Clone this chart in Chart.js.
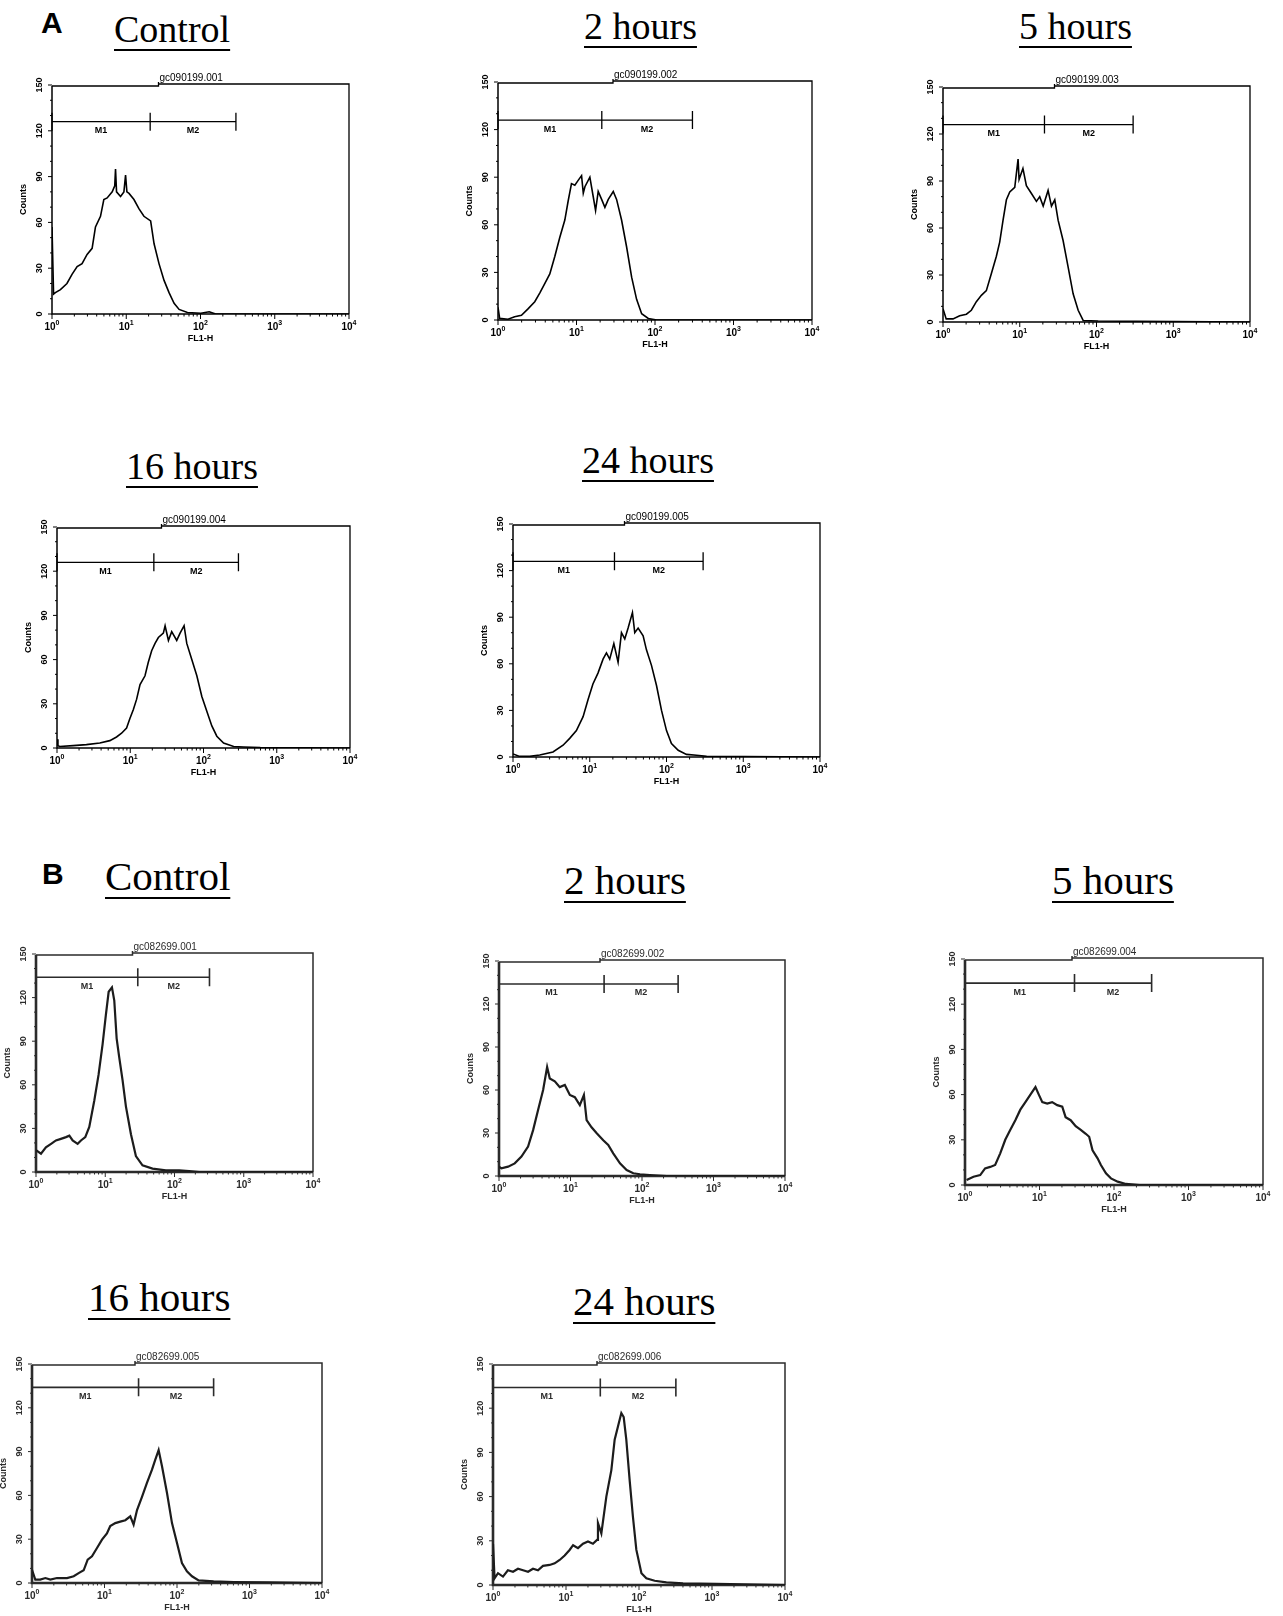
<!DOCTYPE html>
<html>
<head>
<meta charset="utf-8">
<script src="https://cdn.jsdelivr.net/npm/chart.js@4.4.1/dist/chart.umd.min.js"></script>
<style>
  body { margin: 0; background: #fff; }
  #fig { position: relative; width: 1283px; height: 1616px; overflow: hidden; background: #fff; }
  #fig canvas { position: absolute; }
  .title {
    position: absolute; font-family: "Liberation Serif", "Times New Roman", serif;
    line-height: 1; white-space: nowrap; color: #000;
    text-decoration: underline; text-decoration-thickness: 2px; text-underline-offset: 7px;
  }
  .letter { position: absolute; font-family: "Liberation Sans", Arial, sans-serif; font-weight: bold; font-size: 30px; line-height: 1; }
</style>
</head>
<body>
<div id="fig">
  <div class="letter" style="left:41px; top:8px">A</div>
  <div class="title" style="left:114px; top:10px; font-size:38px">Control</div>
  <div class="title" style="left:584px; top:7px; font-size:38px">2 hours</div>
  <div class="title" style="left:1019px; top:7px; font-size:38px">5 hours</div>
  <div class="title" style="left:126px; top:447px; font-size:38px">16 hours</div>
  <div class="title" style="left:582px; top:441px; font-size:38px">24 hours</div>

  <div class="letter" style="left:42px; top:859px">B</div>
  <div class="title" style="left:105px; top:856px; font-size:41px">Control</div>
  <div class="title" style="left:564px; top:860px; font-size:41px">2 hours</div>
  <div class="title" style="left:1052px; top:860px; font-size:41px">5 hours</div>
  <div class="title" style="left:88px; top:1277px; font-size:41px">16 hours</div>
  <div class="title" style="left:573px; top:1281px; font-size:41px">24 hours</div>
</div>

<script>
// FL1-H values and counts

// panel A
const aCtrlX = [1, 1.05, 1.11, 1.30, 1.59, 1.86, 2.18, 2.54, 2.97, 3.47, 3.85, 4.50, 4.99, 5.53, 6.47, 7.0, 7.17, 7.4, 8.38, 9.3, 9.79, 10.2, 10.9, 12.7, 14.8, 17.3, 21.3, 23.7, 27.6, 32.3, 37.7, 44.1, 51.5, 66.7, 101, 131, 160, 10000];
const aCtrlY = [57, 13, 14, 16, 20, 26, 31, 33, 39, 43, 57, 64, 75, 76, 80, 84, 95, 80, 77, 80, 91, 80, 79, 75, 69, 64, 61, 46, 33, 22, 14, 7, 3, 1, 0.5, 1.5, 0, 0];

const a2hX = [1, 1.05, 1.34, 1.63, 1.99, 2.41, 2.94, 3.40, 3.94, 4.57, 5.29, 6.12, 7.10, 7.83, 8.63, 9.52, 10.5, 11.6, 12.2, 12.8, 14.8, 16.3, 17.5, 18.9, 20.9, 23.0, 25.4, 29.4, 32.4, 37.5, 43.5, 50.4, 58.3, 67.6, 82.2, 105, 10000];
const a2hY = [8, 1, 0.5, 2, 3, 7, 11.5, 17, 23, 29, 40, 52, 63, 75, 86, 85, 88, 91, 80, 84, 90, 78, 69, 81, 76, 71, 76, 81, 76, 63, 46, 27, 13, 4, 1, 0, 0];

const a5hX = [1, 1.10, 1.35, 1.65, 2.02, 2.34, 2.72, 3.16, 3.67, 4.27, 4.96, 5.48, 6.06, 6.70, 7.41, 8.61, 9.51, 9.80, 11.0, 12.2, 14.2, 16.5, 18.2, 20.2, 23.4, 25.9, 28.6, 31.6, 36.7, 42.7, 49.6, 57.7, 67.0, 105, 10000];
const a5hY = [8.5, 2, 2, 4, 5, 7.5, 13, 17, 20, 31, 42, 51, 65, 78, 83, 86, 104, 91, 98, 87, 82, 77, 80, 74, 84, 74, 78, 65, 52, 35, 18, 7.5, 1, 0.6, 0];

const a16hX = [1, 1.03, 1.09, 1.66, 2.52, 3.84, 5.26, 6.50, 7.61, 8.91, 9.89, 11.0, 12.2, 13.6, 15.9, 17.6, 19.6, 21.8, 24.2, 28.3, 29.9, 33.2, 36.8, 43.1, 47.9, 54.3, 59.1, 69.2, 81.1, 94.9, 111, 130, 152, 188, 258, 353, 597, 10000];
const a16hY = [6, 1.5, 1, 1.6, 2.3, 3.4, 5, 7.5, 10, 13.6, 20, 26, 33, 43, 49, 58, 66, 71, 75, 78, 83, 73, 79, 73, 78, 83, 71, 60, 49, 35, 25, 15, 8, 3.4, 1, 0.7, 0.3, 0];

const a24hX = [1, 1.22, 1.65, 2.23, 3.32, 4.49, 5.48, 6.70, 8.19, 9.51, 11.0, 12.8, 14.9, 16.5, 18.2, 20.6, 23.4, 25.9, 28.6, 31.6, 36.0, 38.6, 42.7, 49.6, 54.8, 63.7, 74.1, 86.1, 100, 116, 142, 182, 246, 333, 10000];
const a24hY = [2, 0.4, 0.4, 1.3, 3.2, 7.6, 12, 17, 26, 37, 47, 54, 63, 67, 63, 73, 61, 80, 76, 83, 93, 80, 83, 78, 69, 59, 46, 30, 17, 8.7, 4.3, 1.7, 1.1, 0.4, 0];

// panel B
const bCtrlX = [1, 1.18, 1.39, 1.65, 1.94, 2.29, 2.71, 3.03, 3.38, 3.99, 4.46, 5.15, 5.88, 6.94, 8.01, 9.16, 10.2, 11.2, 12.5, 13.5, 14.6, 15.9, 17.8, 19.9, 23.5, 27.7, 34.5, 48.2, 75.0, 117, 163, 227, 10000];
const bCtrlY = [15, 12.6, 17, 19.4, 21.7, 22.8, 24, 25, 21.7, 19.4, 21.7, 24, 31, 49, 67, 88, 108, 124, 127, 118, 92, 79, 63, 45, 26, 11, 4.6, 2.3, 1.1, 1.1, 0.7, 0, 0];

const b2hX = [1, 1.08, 1.34, 1.66, 2.06, 2.55, 3.00, 3.52, 4.14, 4.71, 5.13, 6.03, 7.08, 8.33, 9.79, 11.5, 13.5, 15.4, 16.8, 19.7, 23.1, 28.7, 33.7, 39.6, 49.2, 61.0, 75.6, 93.7, 129, 222, 10000];
const b2hY = [6.5, 5.3, 6.5, 8.8, 13.5, 20.5, 32, 46, 60, 76, 68, 66, 62, 63.5, 56.5, 55, 49.5, 56.5, 39, 34, 30, 25, 21.6, 15.8, 8.8, 4.2, 1.9, 1.2, 0.7, 0, 0];

const b5hX = [1.05, 1.30, 1.60, 1.86, 2.18, 2.54, 2.97, 3.47, 4.06, 4.74, 5.53, 6.47, 7.55, 8.83, 9.79, 10.9, 12.7, 14.8, 17.3, 20.2, 22.4, 26.2, 30.6, 35.8, 41.8, 46.4, 51.5, 60.2, 66.7, 78.0, 91.0, 112, 145, 220, 10000];
const b5hY = [3.3, 5.5, 6.6, 11, 12, 13.3, 21, 30, 36.6, 43, 50, 55, 60, 65, 60, 55, 54, 55, 53, 52, 45, 43, 39, 36.6, 34, 32, 23, 17.7, 13.3, 7.8, 4.4, 2.2, 0.7, 0, 0];

const b16hX = [1, 1.11, 1.30, 1.53, 1.79, 2.21, 3.04, 3.76, 4.40, 5.16, 5.86, 6.72, 7.88, 9.24, 10.8, 12.0, 14.1, 16.5, 19.4, 22.7, 25.2, 28.1, 32.9, 38.5, 45.2, 50.2, 55.8, 62.1, 72.8, 85.3, 100, 117, 137, 161, 199, 320, 605, 1742, 10000];
const b16hY = [9, 2.3, 2.3, 3.4, 2.3, 3.4, 3.4, 4.6, 6.8, 8.7, 16, 18.3, 24, 29.7, 34, 39, 41, 42, 43, 45.7, 40, 50, 59, 68.5, 77.6, 84.5, 91, 80, 61.6, 41, 27.4, 13.7, 8, 4.6, 1.8, 1.1, 0.7, 0.5, 0];

const b24hX = [1, 1.05, 1.17, 1.37, 1.60, 1.88, 2.20, 2.58, 3.02, 3.53, 4.13, 4.84, 5.97, 7.00, 8.19, 9.59, 11.2, 12.5, 14.6, 17.1, 20.0, 23.4, 26.6, 27.4, 30.5, 35.7, 41.8, 46.4, 51.5, 57.3, 61.7, 67.0, 74.5, 82.7, 91.9, 108, 126, 164, 237, 401, 1146, 10000];
const b24hY = [28, 4.5, 8, 5.7, 10, 9, 11, 10, 9, 11, 10, 13, 13.6, 14.7, 17, 20, 23.8, 27, 25, 28, 29.5, 28, 30.6, 42, 35, 60, 78, 98.6, 107.6, 116.7, 114, 98.6, 71, 46, 24, 8, 4.5, 2.9, 1.8, 1.1, 0.7, 0];

// axes and marker gates
const yTicks = [0, 30, 60, 90, 120, 150];
const xTicks = [1, 10, 100, 1000, 10000];
const gateLabels = ['M1', 'M2'];
const gatesA = [1, 21, 300];
const gatesB = [1, 29.5, 320];
const gateYA = 126;
const gateYB = 134;

// box = [left, top, right, bottom] of the plot frame on the page
const panels = [
  { file: 'gc090199.001', x: aCtrlX, y: aCtrlY, box: [52, 85, 349, 314], gates: gatesA, gateY: gateYA, scan: false },
  { file: 'gc090199.002', x: a2hX, y: a2hY, box: [498, 82, 812, 320], gates: gatesA, gateY: gateYA, scan: false },
  { file: 'gc090199.003', x: a5hX, y: a5hY, box: [943, 87, 1250, 322], gates: gatesA, gateY: gateYA, scan: false },
  { file: 'gc090199.004', x: a16hX, y: a16hY, box: [57, 527, 350, 748], gates: gatesA, gateY: gateYA, scan: false },
  { file: 'gc090199.005', x: a24hX, y: a24hY, box: [513, 524, 820, 757], gates: gatesA, gateY: gateYA, scan: false },
  { file: 'gc082699.001', x: bCtrlX, y: bCtrlY, box: [36, 954, 313, 1172], gates: gatesB, gateY: gateYB, scan: true },
  { file: 'gc082699.002', x: b2hX, y: b2hY, box: [499, 961, 785, 1176], gates: gatesB, gateY: gateYB, scan: true },
  { file: 'gc082699.004', x: b5hX, y: b5hY, box: [965, 959, 1263, 1185], gates: gatesB, gateY: gateYB, scan: true },
  { file: 'gc082699.005', x: b16hX, y: b16hY, box: [32, 1364, 322, 1583], gates: gatesB, gateY: gateYB, scan: true },
  { file: 'gc082699.006', x: b24hX, y: b24hY, box: [493, 1364, 785, 1585], gates: gatesB, gateY: gateYB, scan: true }
];

const SANS = '"Liberation Sans", Arial, sans-serif';

// frame, ticks, labels and M1/M2 markers, CellQuest style
const facsAxes = {
  id: 'facsAxes',
  beforeDatasetsDraw(chart, args, o) {
    const { ctx, chartArea: a, scales: { x, y } } = chart;
    const ink = o.scan ? '#2b2b2b' : '#000';
    const midX = (a.left + a.right) / 2;
    const stepX = midX - 42;
    ctx.save();
    ctx.strokeStyle = ink;
    ctx.fillStyle = ink;

    // frame, with the little step where the file name sits
    ctx.lineWidth = o.scan ? 1.5 : 1.3;
    ctx.beginPath();
    ctx.moveTo(stepX, a.top - 1);
    ctx.lineTo(a.right, a.top - 1);
    ctx.lineTo(a.right, a.bottom);
    ctx.moveTo(a.left, a.top + 1);
    ctx.lineTo(stepX, a.top + 1);
    ctx.lineTo(stepX, a.top - 3);
    ctx.stroke();
    ctx.lineWidth = o.scan ? 2.6 : 1.5;
    ctx.beginPath();
    ctx.moveTo(a.left, a.top + 1);
    ctx.lineTo(a.left, a.bottom);
    ctx.lineTo(a.right, a.bottom);
    ctx.stroke();

    // y ticks
    ctx.lineWidth = 1;
    for (let v = 0; v <= 150; v += 10) {
      const py = y.getPixelForValue(v);
      const len = v % 30 === 0 ? 4 : 2;
      ctx.beginPath();
      ctx.moveTo(a.left - len, py);
      ctx.lineTo(a.left, py);
      ctx.stroke();
    }
    ctx.font = 'bold 9px ' + SANS;
    ctx.textAlign = 'center';
    ctx.textBaseline = 'middle';
    yTicks.forEach(v => {
      const py = y.getPixelForValue(v);
      ctx.save();
      ctx.translate(a.left - 12, py);
      ctx.rotate(-Math.PI / 2);
      ctx.fillText(String(v), 0, 0);
      ctx.restore();
    });

    // x ticks (decades plus 2..9 minors)
    xTicks.forEach((d, i) => {
      const px = x.getPixelForValue(d);
      ctx.beginPath();
      ctx.moveTo(px, a.bottom);
      ctx.lineTo(px, a.bottom + 5);
      ctx.stroke();
      if (i < xTicks.length - 1) {
        for (let k = 2; k <= 9; k++) {
          const pm = x.getPixelForValue(d * k);
          ctx.beginPath();
          ctx.moveTo(pm, a.bottom);
          ctx.lineTo(pm, a.bottom + 2.5);
          ctx.stroke();
        }
      }
      const exp = String(Math.round(Math.log10(d)));
      ctx.font = 'bold 10px ' + SANS;
      const w1 = ctx.measureText('10').width;
      ctx.font = 'bold 7px ' + SANS;
      const w2 = ctx.measureText(exp).width;
      const x0 = px - (w1 + w2) / 2;
      ctx.textAlign = 'left';
      ctx.textBaseline = 'alphabetic';
      ctx.font = 'bold 10px ' + SANS;
      ctx.fillText('10', x0, a.bottom + 16);
      ctx.font = 'bold 7px ' + SANS;
      ctx.fillText(exp, x0 + w1, a.bottom + 11);
    });

    // axis titles
    ctx.font = 'bold 9px ' + SANS;
    ctx.textAlign = 'center';
    ctx.textBaseline = 'middle';
    ctx.fillText('FL1-H', midX, a.bottom + 25);
    ctx.save();
    ctx.translate(a.left - 28, (a.top + a.bottom) / 2);
    ctx.rotate(-Math.PI / 2);
    ctx.fillText('Counts', 0, 0);
    ctx.restore();

    // file name over the frame
    ctx.font = '10px ' + SANS;
    ctx.textAlign = 'left';
    ctx.textBaseline = 'alphabetic';
    ctx.fillText(o.file, stepX + 1, a.top - 4);

    // M1 / M2 markers
    const gy = y.getPixelForValue(o.gateY);
    const gx = o.gates.map(g => x.getPixelForValue(g));
    ctx.lineWidth = o.scan ? 1.6 : 1.3;
    ctx.beginPath();
    ctx.moveTo(gx[0], gy);
    ctx.lineTo(gx[gx.length - 1], gy);
    gx.forEach(px => {
      ctx.moveTo(px, gy - 9);
      ctx.lineTo(px, gy + 9);
    });
    ctx.stroke();
    ctx.font = 'bold 9px ' + SANS;
    ctx.textAlign = 'center';
    ctx.textBaseline = 'middle';
    gateLabels.forEach((t, i) => {
      ctx.fillText(t, (gx[i] + gx[i + 1]) / 2, gy + 9);
    });
    ctx.restore();
  }
};

const M = { l: 46, t: 24, r: 16, b: 36 };
const fig = document.getElementById('fig');

panels.forEach(p => {
  if (p.x.length !== p.y.length) throw new Error(p.file + ': ' + p.x.length + ' x vs ' + p.y.length + ' y');
  const [L, T, R, B] = p.box;
  const w = R - L + M.l + M.r;
  const h = B - T + M.t + M.b;
  const c = document.createElement('canvas');
  c.width = w;
  c.height = h;
  c.style.left = (L - M.l) + 'px';
  c.style.top = (T - M.t) + 'px';
  c.style.width = w + 'px';
  c.style.height = h + 'px';
  fig.appendChild(c);

  new Chart(c, {
    type: 'line',
    data: {
      datasets: [{
        data: p.x.map((v, i) => ({ x: v, y: p.y[i] })),
        borderColor: p.scan ? '#1c1c1c' : '#000',
        borderWidth: p.scan ? 2.2 : 1.6,
        pointRadius: 0,
        tension: 0,
        fill: false
      }]
    },
    options: {
      responsive: false,
      animation: false,
      devicePixelRatio: 1,
      layout: { padding: { left: M.l, top: M.t, right: M.r, bottom: M.b } },
      plugins: {
        legend: { display: false },
        tooltip: { enabled: false },
        facsAxes: { file: p.file, gates: p.gates, gateY: p.gateY, scan: p.scan }
      },
      scales: {
        x: { type: 'logarithmic', min: 1, max: 10000, display: false },
        y: { type: 'linear', min: 0, max: 150, display: false }
      }
    },
    plugins: [facsAxes]
  });
});
</script>
</body>
</html>
